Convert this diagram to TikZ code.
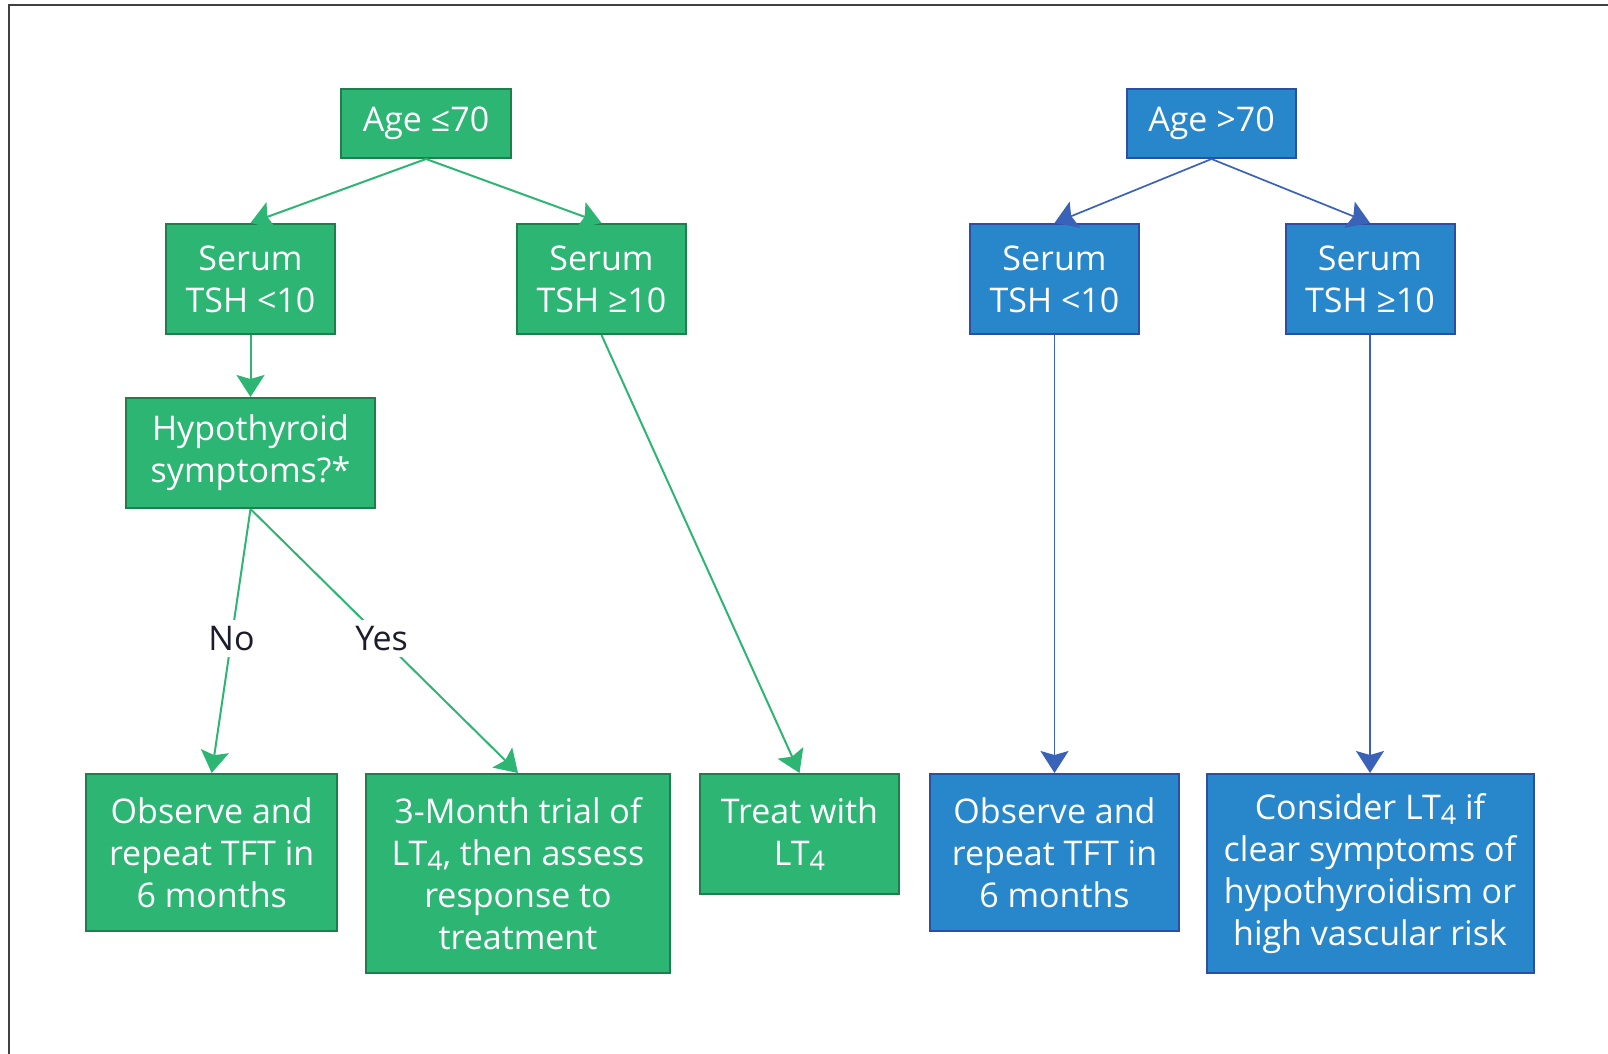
\documentclass[tikz,border=0pt]{standalone}
\usepackage{fontspec}
\setmainfont{Open Sans}
\usetikzlibrary{arrows.meta}
\definecolor{boxgreen}{HTML}{2DB673}
\definecolor{greenedge}{HTML}{1E7F4C}
\definecolor{boxblue}{HTML}{2887CB}
\definecolor{blueedge}{HTML}{2D4FA3}
\definecolor{blueline}{HTML}{3A62B8}
\definecolor{answertext}{HTML}{1C1C2C}
\newcommand{\boxfont}{\fontsize{34}{42}\selectfont}
\newcommand{\lsub}[1]{\raisebox{-0.3ex}{\fontsize{27}{27}\selectfont #1}}
\tikzstyle{greenbox}=[rectangle,draw=greenedge,fill=boxgreen,line width=2pt,text=white,align=center,font=\boxfont,inner sep=0pt]
\tikzstyle{bluebox}=[rectangle,draw=blueedge,fill=boxblue,line width=2pt,text=white,align=center,font=\boxfont,inner sep=0pt]
\tikzstyle{greenpath} = [-{Stealth[length=22pt,width=28pt,inset=4pt]},color=boxgreen,line width=2pt]
\tikzstyle{bluepath} = [-{Stealth[length=22pt,width=28pt,inset=4pt]},color=blueline,line width=1.7pt]
\tikzstyle{answer}=[fill=white,text=answertext,font=\boxfont,inner sep=6pt]

\begin{document}
\begin{tikzpicture}[x=1pt,y=-1pt]
        \useasboundingbox (0,0) rectangle (1608,1054);
        \draw[line width=2pt,black!75] (9,1054) -- (9,5) -- (1608,5);

        % age 70 or younger
        \node[greenbox,minimum width=170,minimum height=69] (age1) at (426,123.5) {Age ≤70};
        \node[greenbox,minimum width=169,minimum height=110] (tsh1) at (250.5,279) {Serum\\TSH <10};
        \node[greenbox,minimum width=169,minimum height=110] (tsh2) at (601.5,279) {Serum\\TSH ≥10};
        \node[greenbox,minimum width=249,minimum height=110] (hypo) at (250.5,453) {Hypothyroid\\symptoms?*};
        \node[greenbox,minimum width=251,minimum height=157] (obs1) at (211.7,852.5) {Observe and\\repeat TFT in\\6 months};
        \node[greenbox,minimum width=304,minimum height=199] (trial) at (518,873.5) {3-Month trial of\\LT\lsub{4}, then assess\\response to\\treatment};
        \node[greenbox,minimum width=199,minimum height=120] (treat) at (799.5,834) {Treat with\\LT\lsub{4}};

        % older than 70
        \node[bluebox,minimum width=169,minimum height=69] (age2) at (1211.5,123.5) {Age >70};
        \node[bluebox,minimum width=169,minimum height=110] (tsh3) at (1054.5,279) {Serum\\TSH <10};
        \node[bluebox,minimum width=169,minimum height=110] (tsh4) at (1370,279) {Serum\\TSH ≥10};
        \node[bluebox,minimum width=249,minimum height=157] (obs2) at (1054.5,852.5) {Observe and\\repeat TFT in\\6 months};
        \node[bluebox,minimum width=327,minimum height=199] (cons) at (1370,873.5) {Consider LT\lsub{4} if\\clear symptoms of\\hypothyroidism or\\high vascular risk};

        \path[greenpath]
            (age1.south) edge (tsh1.north)
            (age1.south) edge (tsh2.north)
            (tsh1.south) edge (hypo.north)
            (hypo.south) edge node[answer,pos=0.49] {No} (obs1.north)
            (hypo.south) edge node[answer,pos=0.49] {Yes} (trial.north)
            (tsh2.south) edge (treat.north);

        \path[bluepath]
            (age2.south) edge (tsh3.north)
            (age2.south) edge (tsh4.north)
            (tsh3.south) edge (obs2.north)
            (tsh4.south) edge (cons.north);
    \end{tikzpicture}
\end{document}
